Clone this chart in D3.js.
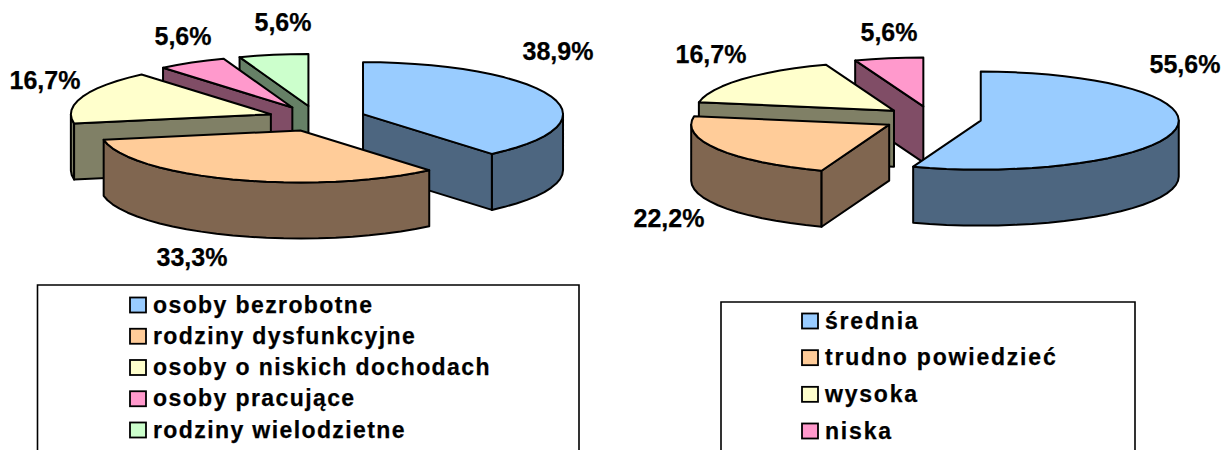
<!DOCTYPE html>
<html><head><meta charset="utf-8">
<script src="https://cdn.jsdelivr.net/npm/d3@7"></script>
<style>html,body{margin:0;padding:0;background:#fff;overflow:hidden}svg{display:block}text{font-family:"Liberation Sans",Arial,sans-serif;font-weight:700;fill:#000;stroke:#000;stroke-width:.25px}</style>
</head><body><svg id="c" width="1223" height="450"></svg>
<script>
// data
const leftCategories = ["osoby bezrobotne","rodziny dysfunkcyjne","osoby o niskich dochodach","osoby pracujące","rodziny wielodzietne"];
const leftValues = [38.9,33.3,16.7,5.6,5.6];
const rightCategories = ["średnia","trudno powiedzieć","wysoka","niska"];
const rightValues = [55.6,22.2,16.7,5.6];
const topColors = ["#99CCFF","#FFCC99","#FFFFCC","#FF99CC","#CCFFCC"];
const sideColors = ["#4D6680","#806650","#808066","#804D66","#668066"];

// layout, kept apart from the data
const leftLayout = {cx:317,cy:118.5,rx:200,ry:52,depth:56,explode:0.245,
  labels:[[558,60],[192,266],[45,89],[183,45],[283,31]],
  legend:{x0:37.5,x1:579,top:285,swatchX:130,textX:153,rowA:305,rowB:430,spacing:1.4}};
const rightLayout = {cx:932,cy:118.5,rx:198,ry:49,depth:56,explode:0.25,
  labels:[[1185,73],[669,227],[711,63],[889,41]],
  legend:{x0:721,x1:1135,top:302,swatchX:802,textX:825,rowA:321,rowB:431,spacing:1.8}};

const svg = d3.select("#c");
const fmt = v => v.toFixed(1).replace(".",",")+"%";
const line = d3.line();

function drawPie(categories, values, L){
  const arcs = d3.pie().sort(null)(values);
  const g = svg.append("g");
  // paint back slices first
  const order = arcs.slice().sort((a,b)=>
    d3.ascending(-Math.cos((a.startAngle+a.endAngle)/2), -Math.cos((b.startAngle+b.endAngle)/2)));
  order.forEach(a=>{
    const mid = (a.startAngle+a.endAngle)/2;
    const x = d3.scaleLinear().domain([-1,1]).range([L.cx-L.rx,L.cx+L.rx]);
    const y = d3.scaleLinear().domain([-1,1]).range([L.cy+L.ry,L.cy-L.ry]);
    const ox = L.explode*Math.sin(mid), oy = L.explode*Math.cos(mid);
    const at = (t,r)=>[x(ox+r*Math.sin(t)), y(oy+r*Math.cos(t))];
    const n = Math.max(3,Math.round((a.endAngle-a.startAngle)/(Math.PI/36)));
    const rim = d3.range(n+1).map(i=>at(a.startAngle+(a.endAngle-a.startAngle)*i/n,1));
    const poly = [at(0,0),...rim];
    const front = [];
    poly.forEach((p,i)=>{
      const q = poly[(i+1)%poly.length];
      if(q[0]-p[0] < -0.01) front.push([p,q]);
    });
    // side walls: contiguous rim wall is one path without inner seams
    const rimFront = front.filter(([p,q])=>p!==poly[0]&&q!==poly[0]);
    const radialFront = front.filter(([p,q])=>p===poly[0]||q===poly[0]);
    const wall = pts => [...pts,...pts.slice().reverse().map(p=>[p[0],p[1]+L.depth])];
    const style = s => s.attr("fill",sideColors[a.index]).attr("stroke","#000")
      .attr("stroke-width",2).attr("stroke-linejoin","round");
    if(rimFront.length){
      const pts=[rimFront[0][0],...rimFront.map(e=>e[1])];
      style(g.append("path").attr("d",line(wall(pts))+"Z"));
    }
    radialFront.forEach(e=> style(g.append("path").attr("d",line(wall(e))+"Z")));
    g.append("path").attr("d",line(poly)+"Z").attr("fill",topColors[a.index])
      .attr("stroke","#000").attr("stroke-width",2).attr("stroke-linejoin","round");
  });
  g.selectAll(".lbl").data(arcs).enter().append("text").attr("class","lbl")
    .attr("x",(d,i)=>L.labels[i][0]).attr("y",(d,i)=>L.labels[i][1])
    .attr("text-anchor","middle").attr("font-size",25).text(d=>fmt(d.data));

  const lg = L.legend;
  const row = d3.scalePoint().domain(categories).range([lg.rowA,lg.rowB]);
  svg.append("path").attr("d",line([[lg.x0,450],[lg.x0,lg.top],[lg.x1,lg.top],[lg.x1,450]]))
    .attr("fill","none").attr("stroke","#000").attr("stroke-width",1.6);
  categories.forEach((c,i)=>{
    svg.append("rect").attr("x",lg.swatchX).attr("y",row(c)-7.5).attr("width",16).attr("height",15)
      .attr("fill",topColors[i]).attr("stroke","#000").attr("stroke-width",1.8);
    svg.append("text").attr("x",lg.textX).attr("y",row(c)+7.5).attr("font-size",23)
      .attr("letter-spacing",lg.spacing).text(c);
  });
}
drawPie(leftCategories,leftValues,leftLayout);
drawPie(rightCategories,rightValues,rightLayout);
</script></body></html>
